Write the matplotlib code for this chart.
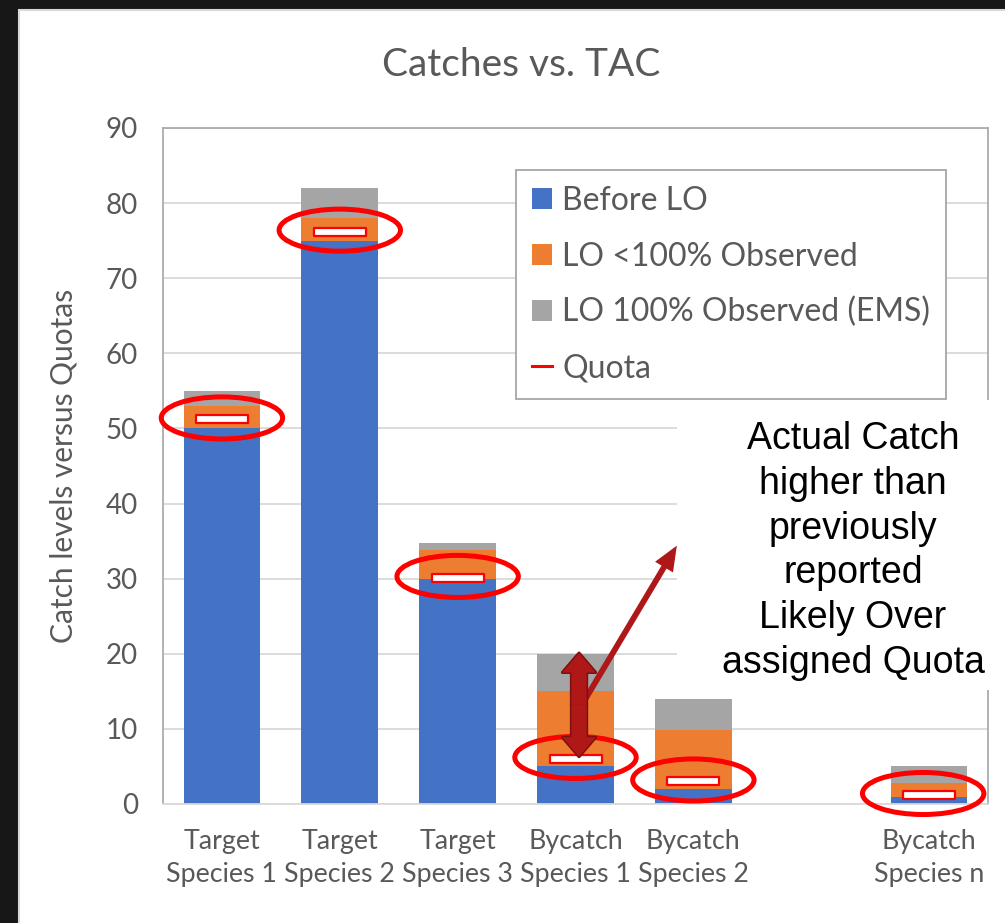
import numpy as np
import matplotlib
matplotlib.use('Agg')
import matplotlib.pyplot as plt
from matplotlib.patches import Ellipse, Rectangle, FancyArrowPatch, Patch
from matplotlib.lines import Line2D
from matplotlib.path import Path

plt.rcParams['font.family'] = ['Lato', 'DejaVu Sans']

# data
categories = ['Target\nSpecies 1', 'Target\nSpecies 2', 'Target\nSpecies 3',
              'Bycatch\nSpecies 1', 'Bycatch\nSpecies 2', '', 'Bycatch\nSpecies n']
before_lo = [50, 75, 30, 5, 2, 0, 0.9]
lo_under_100 = [3, 3, 3.8, 10, 7.8, 0, 1.9]
lo_100_ems = [2, 4, 1, 5, 4.2, 0, 2.2]
quota = [51.2, 76.2, 30.1, 6.0, 3.0, np.nan, 1.2]
yticks = [0, 10, 20, 30, 40, 50, 60, 70, 80, 90]

# annotation arrows (data units)
arrow_tail = (3.02, 12.3)
arrow_head = (3.86, 34.4)
darrow_x = 3.03
darrow_low, darrow_high = 6.3, 20.1

note = 'Actual Catch\nhigher than\npreviously\nreported\nLikely Over\nassigned Quota'

c_blue = '#4472C4'
c_orange = '#ED7D31'
c_gray = '#A5A5A5'
c_text = '#595959'

W, H = 1005, 923
fig = plt.figure(figsize=(W / 100, H / 100), dpi=100)
fig.patch.set_facecolor('#171717')
fig.patches.append(Rectangle((19 / W, -0.01), 1, 1.01 - 10 / H, transform=fig.transFigure,
                             facecolor='white', edgecolor='#D9D9D9', lw=1.5, zorder=-10))

ax = fig.add_axes([163 / W, 1 - 804 / H, (988 - 163) / W, (804 - 128) / H])
ax.set_facecolor('none')

x = np.arange(len(categories))
bw = 0.65
b1 = np.array(before_lo)
b2 = np.array(lo_under_100)
b3 = np.array(lo_100_ems)
ax.bar(x, b1, bw, color=c_blue, zorder=2)
ax.bar(x, b2, bw, bottom=b1, color=c_orange, zorder=2)
ax.bar(x, b3, bw, bottom=b1 + b2, color=c_gray, zorder=2)

# quota marker: white dash with red border
rect = Path([(-1, -0.17), (1, -0.17), (1, 0.17), (-1, 0.17), (-1, -0.17)],
            [Path.MOVETO, Path.LINETO, Path.LINETO, Path.LINETO, Path.CLOSEPOLY])
ax.plot(x, quota, ls='none', marker=rect, ms=38, mfc='white', mec='#FF0000',
        mew=1.6, zorder=4)

for xi, q in zip(x, quota):
    if np.isnan(q):
        continue
    ax.add_patch(Ellipse((xi - (0.05 if xi == 6 else 0), q + 0.2), 1.03, 5.6, fill=False,
                         edgecolor='#FF0000', lw=3.6, zorder=5, clip_on=False))

ax.set_xlim(-0.5, 6.5)
ax.set_ylim(0, 90)
ax.set_yticks(yticks)
ax.set_xticks(x)
ax.set_xticklabels(categories, linespacing=1.4)
ax.tick_params(axis='both', length=0, colors=c_text, labelsize=20)
ax.tick_params(axis='x', labelsize=19.3)
ax.tick_params(axis='y', pad=18)
ax.tick_params(axis='x', pad=18)
ax.yaxis.grid(True, color='#D9D9D9', lw=1.3, zorder=0)
ax.set_axisbelow(True)
for s in ['left', 'top', 'right']:
    ax.spines[s].set_color('#ABABAB')
    ax.spines[s].set_linewidth(1.3)
ax.spines['bottom'].set_color('#D9D9D9')
ax.spines['bottom'].set_linewidth(1.3)

fig.text(521 / W, 1 - 65 / H, 'Catches vs. TAC', ha='center', va='center',
         fontsize=28, color=c_text)
fig.text(63.5 / W, 1 - 466 / H, 'Catch levels versus Quotas', ha='center', va='center',
         rotation=90, fontsize=21.5, color=c_text)

# legend
handles = [Patch(facecolor=c_blue), Patch(facecolor=c_orange), Patch(facecolor=c_gray),
           Line2D([], [], color='#FF0000', lw=2.2)]
labels = ['Before LO', 'LO <100% Observed', 'LO 100% Observed (EMS)', 'Quota']
leg = ax.legend(handles, labels, loc='upper left', bbox_to_anchor=(516 / W, 1 - 170 / H),
                bbox_transform=fig.transFigure, borderaxespad=0, fontsize=23,
                labelcolor=c_text, frameon=True, fancybox=False, framealpha=1,
                edgecolor='#A6A6A6', handlelength=0.63, handleheight=0.63,
                handletextpad=0.32, labelspacing=0.8, borderpad=0.5)
leg.get_frame().set_linewidth(1.3)
leg.set_zorder(6)

# white box behind the note, covering grid and frame
ax.add_patch(Rectangle((677, 923 - 690), 326, 290, transform=None, facecolor='white',
                       edgecolor='none', zorder=3, clip_on=False))
fig.text(853 / W, 1 - 551 / H, note, ha='center', va='center', fontsize=27,
         family=['Liberation Sans', 'DejaVu Sans'], color='black', linespacing=1.31,
         zorder=7)

# diagonal arrow
ax.add_patch(FancyArrowPatch(arrow_tail, arrow_head,
                             arrowstyle='simple,head_width=1.25,head_length=1.5,tail_width=0.35',
                             mutation_scale=12, color='#AE1818', lw=0, zorder=6,
                             shrinkA=0, shrinkB=0, clip_on=False))

# double-headed block arrow, outline first then fill
mid = (darrow_low + darrow_high) / 2
for lay, (fc, ec, lw) in enumerate([('#7E0F0F', '#7E0F0F', 2.2), ('#B01818', 'none', 0)]):
    for end in (darrow_high, darrow_low):
        ax.add_patch(FancyArrowPatch((darrow_x, mid), (darrow_x, end),
                                     arrowstyle='simple,head_width=2.4,head_length=1.4,tail_width=1.1',
                                     mutation_scale=10, facecolor=fc, edgecolor=ec, lw=lw,
                                     zorder=6 + lay, shrinkA=0, shrinkB=0, clip_on=False))

fig.savefig('out.png', dpi=100, facecolor=fig.get_facecolor())
